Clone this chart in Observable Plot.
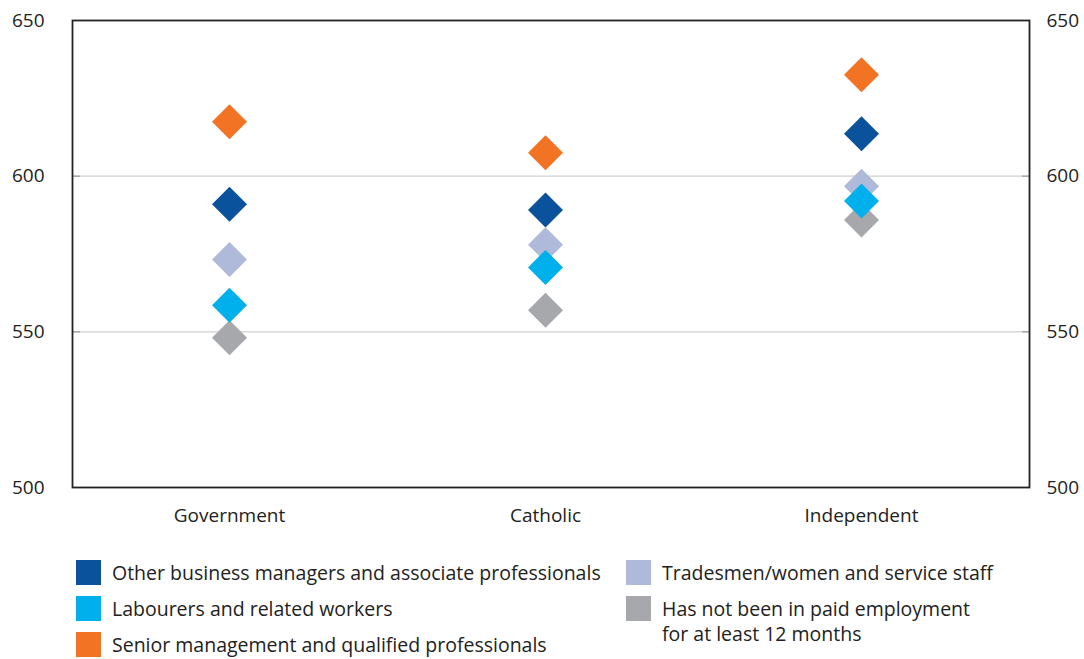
<!DOCTYPE html>
<html>
<head>
<meta charset="utf-8">
<script src="https://cdn.jsdelivr.net/npm/d3@7"></script>
<script src="https://cdn.jsdelivr.net/npm/@observablehq/plot@0.6"></script>
<style>
  body { margin: 0; background: #fff; font-family: "Open Sans", sans-serif; color: #222; }
  #chart { width: 1084px; }
  .legend { display: flex; padding-left: 76px; padding-top: 15px; font-size: 19.5px; line-height: 25px; color: #222; }
  .col { display: flex; flex-direction: column; row-gap: 11px; }
  .col1 { width: 550px; }
  .item { display: flex; align-items: flex-start; white-space: nowrap; }
  .sw { width: 25px; height: 25px; flex: none; margin-right: 11px; }
</style>
</head>
<body>
<div id="chart"></div>
<script>
const sectors = ["Government", "Catholic", "Independent"];
const seriesNames = [
  "Has not been in paid employment for at least 12 months",
  "Tradesmen/women and service staff",
  "Labourers and related workers",
  "Other business managers and associate professionals",
  "Senior management and qualified professionals"
];
const seriesColors = ["#a6a8ab", "#afb9da", "#00b0ec", "#0b529c", "#f37324"];
const notEmployed = [548.1, 556.9, 585.9];
const tradesmen = [573.2, 578.0, 596.8];
const labourers = [558.5, 570.7, 592.0];
const otherManagers = [591.0, 589.1, 613.6];
const seniorManagement = [617.5, 607.5, 632.6];
const yTicks = [500, 550, 600, 650];
const gridTicks = [550, 600];

const seriesValues = [notEmployed, tradesmen, labourers, otherManagers, seniorManagement];
const data = [];
seriesNames.forEach((name, i) => {
  sectors.forEach((s, j) => data.push({sector: s, series: name, value: seriesValues[i][j]}));
});

const diamond = {
  draw(context, size) {
    const r = Math.sqrt(size / Math.PI);
    context.moveTo(0, -r);
    context.lineTo(r, 0);
    context.lineTo(0, r);
    context.lineTo(-r, 0);
    context.closePath();
  }
};

const chart = Plot.plot({
  width: 1084,
  height: 545,
  marginTop: 20,
  marginBottom: 58,
  marginLeft: 72,
  marginRight: 55,
  style: {fontFamily: "'Open Sans', sans-serif", fontSize: "19px", color: "#222", background: "#fff"},
  x: {type: "point", domain: sectors, range: [229, 861], padding: 0},
  y: {domain: [500, 650]},
  color: {domain: seriesNames, range: seriesColors},
  marks: [
    Plot.ruleY(gridTicks, {stroke: "#cfcfcf", strokeWidth: 1.2}),
    Plot.axisY({anchor: "left", ticks: gridTicks, tickSize: -8, tickFormat: () => "", label: null, stroke: "#999", strokeWidth: 1.2}),
    Plot.axisY({anchor: "right", ticks: gridTicks, tickSize: -8, tickFormat: () => "", label: null, stroke: "#999", strokeWidth: 1.2}),
    Plot.axisY({anchor: "left", ticks: yTicks, tickSize: 0, tickPadding: 28, label: null, fill: "#222"}),
    Plot.axisY({anchor: "right", ticks: yTicks, tickSize: 0, tickPadding: 17, label: null, fill: "#222"}),
    Plot.axisX({anchor: "bottom", tickSize: 0, tickPadding: 21, label: null, fill: "#222"}),
    Plot.dot(data, {x: "sector", y: "value", fill: "series", symbol: diamond, r: 17.5, stroke: null}),
    Plot.frame({stroke: "#222", strokeWidth: 1.8})
  ]
});
document.getElementById("chart").appendChild(chart);

const legendCol1 = [
  ["Other business managers and associate professionals", "#0b529c"],
  ["Labourers and related workers", "#00b0ec"],
  ["Senior management and qualified professionals", "#f37324"]
];
const legendCol2 = [
  ["Tradesmen/women and service staff", "#afb9da"],
  ["Has not been in paid employment<br>for at least 12 months", "#a6a8ab"]
];
const itemHtml = ([t, c]) =>
  `<div class="item"><span class="sw" style="background:${c}"></span><span>${t}</span></div>`;
const legend = document.createElement("div");
legend.className = "legend";
legend.innerHTML =
  `<div class="col col1">${legendCol1.map(itemHtml).join("")}</div>` +
  `<div class="col">${legendCol2.map(itemHtml).join("")}</div>`;
document.getElementById("chart").appendChild(legend);
</script>
</body>
</html>
